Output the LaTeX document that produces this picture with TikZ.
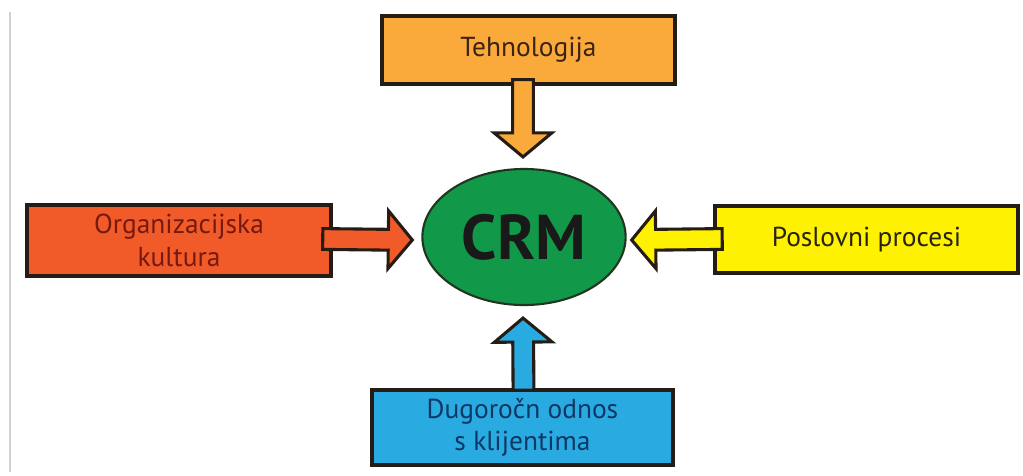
\documentclass[tikz,border=0pt]{standalone}
\usepackage{fontspec}
\setmainfont{PT Sans}
\usetikzlibrary{calc,shapes.geometric}

\definecolor{techorange}{RGB}{250,170,58}
\definecolor{orgred}{RGB}{241,90,41}
\definecolor{procyellow}{RGB}{255,242,0}
\definecolor{relblue}{RGB}{41,171,226}
\definecolor{crmgreen}{RGB}{17,152,72}
\definecolor{edge}{RGB}{38,28,22}
\definecolor{techtext}{RGB}{60,35,20}
\definecolor{orgtext}{RGB}{120,25,15}
\definecolor{proctext}{RGB}{40,35,20}
\definecolor{reltext}{RGB}{15,55,100}

\tikzset{
  factor/.style={draw=edge, line width=2.4pt, align=center, font=\fontsize{19.5}{23}\selectfont},
  feed/.style={draw=edge, line width=2.2pt},
}

% block arrow from #1 to #2, filled with #3
\newcommand{\feedarrow}[3]{
  \coordinate (h) at ($(#2)!0.6cm!(#1)$);
  \draw[feed, fill=#3] ($(#1)!0.26cm!90:(#2)$) -- ($(h)!0.26cm!90:(#2)$) -- ($(h)!0.72cm!90:(#2)$) -- (#2)
    -- ($(h)!0.72cm!-90:(#2)$) -- ($(h)!0.26cm!-90:(#2)$) -- ($(#1)!0.26cm!-90:(#2)$) -- cycle;
}

\begin{document}
\begin{tikzpicture}[x=0.025cm, y=-0.025cm]
\useasboundingbox (0,0) rectangle (1023,475);
\draw[black!18, line width=1.5pt] (10,12) -- (10,472);

\node[factor, fill=techorange, text=techtext, minimum width=7.33cm, minimum height=1.7cm] (tech) at (528.5,50) {Tehnologija};
\node[factor, fill=orgred, text=orgtext, minimum width=7.6cm, minimum height=1.78cm] (org) at (179,240.5) {Organizacijska\\kultura};
\node[factor, fill=procyellow, text=proctext, minimum width=7.58cm, minimum height=1.68cm] (posl) at (866.5,239.5) {Poslovni procesi};
\node[factor, fill=relblue, text=reltext, minimum width=7.53cm, minimum height=1.88cm] (dug) at (522.5,427.5) {Dugoročn odnos\\s klijentima};

\node[ellipse, draw=edge!80!crmgreen, line width=1.5pt, fill=crmgreen, minimum width=5.08cm, minimum height=3.4cm,
  font=\fontsize{45}{45}\selectfont\bfseries, text=black!90] (crm) at (524,237) {CRM};

% arrow ends
\coordinate (tech-out) at ($(tech.south)+(-5.5,-6)$);
\coordinate (tech-in) at ($(crm.north)+(-1,-11)$);
\coordinate (org-out) at ($(org.east)+(-10,-1.5)$);
\coordinate (org-in) at ($(crm.west)+(-9,3)$);
\coordinate (posl-out) at ($(posl.west)+(9,-0.5)$);
\coordinate (posl-in) at ($(crm.east)+(5,3)$);
\coordinate (dug-out) at ($(dug.north)+(1,2)$);
\coordinate (dug-in) at ($(crm.south)+(-1,12)$);

\foreach \f/\c in {tech/techorange, org/orgred, posl/procyellow, dug/relblue} {
  \feedarrow{\f-out}{\f-in}{\c}
}
\end{tikzpicture}
\end{document}
